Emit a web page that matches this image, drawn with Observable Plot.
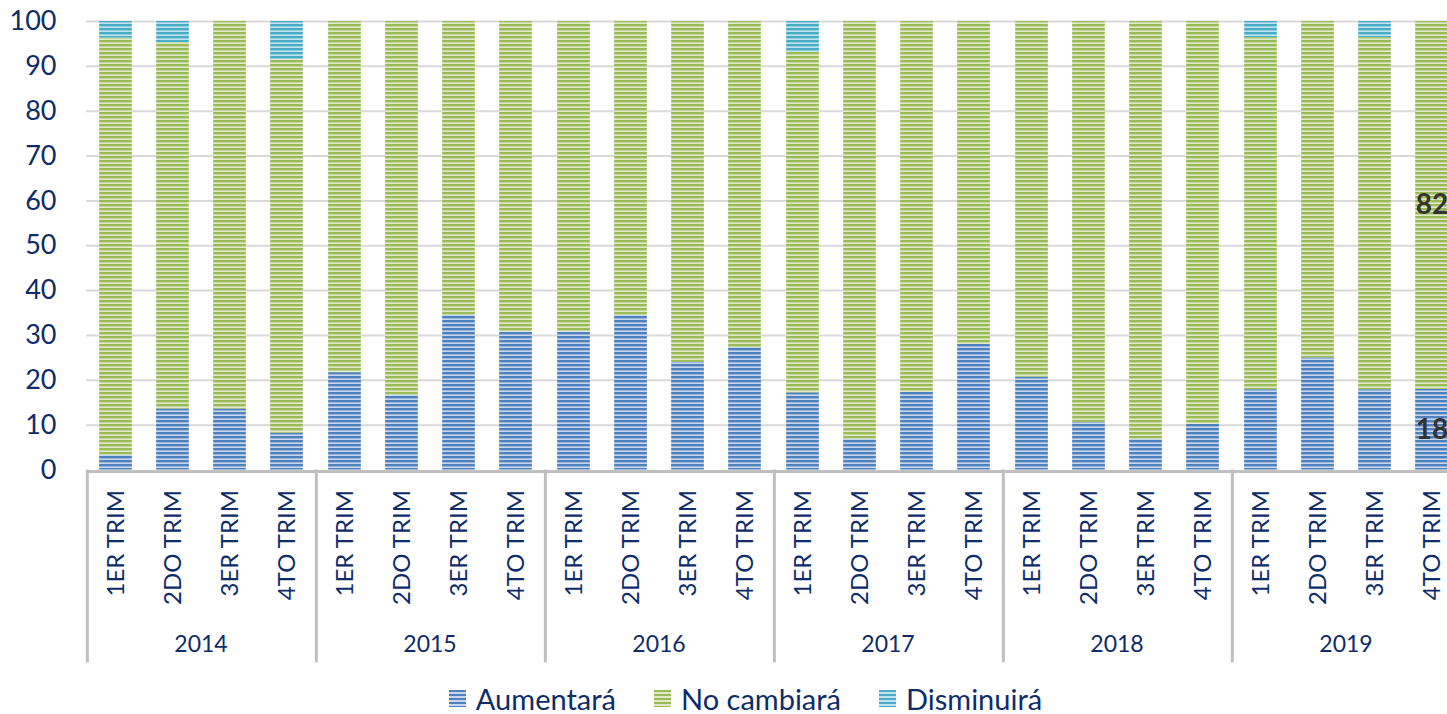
<!DOCTYPE html>
<html>
<head>
<meta charset="utf-8">
<script src="https://cdn.jsdelivr.net/npm/d3@7"></script>
<script src="https://cdn.jsdelivr.net/npm/@observablehq/plot@0.6"></script>
<style>
  html, body { margin: 0; padding: 0; background: #fff; overflow: hidden; }
  #chart { width: 1475px; }
  #chart svg { display: block; max-width: none !important; }
  #legend { width: 1475px; height: 34px; display: flex; justify-content: center; align-items: center;
            gap: 38px; padding-left: 16px; padding-top: 3px; box-sizing: border-box;
            font-family: Lato, "Open Sans", sans-serif; font-size: 29px; color: #0d2c69; }
  #legend .item { display: flex; align-items: center; }
  #legend .sw { width: 17px; height: 17px; margin-right: 10px; display: inline-block; }
</style>
</head>
<body>
<div id="chart"></div>
<div id="legend"></div>
<script>
const years = ["2014", "2015", "2016", "2017", "2018", "2019"];
const quarters = ["1ER TRIM", "2DO TRIM", "3ER TRIM", "4TO TRIM"];
const seriesNames = ["Aumentará", "No cambiará", "Disminuirá"];
const yTicks = [0, 10, 20, 30, 40, 50, 60, 70, 80, 90, 100];

// values per quarter, 2014 1ER TRIM ... 2019 4TO TRIM
const aumentara = [3.3, 13.6, 13.6, 8.2,  21.7, 16.7, 34.5, 30.8,  30.8, 34.5, 24.0, 27.3,
                   17.2, 6.9, 17.3, 28.0,  20.7, 10.6, 6.9, 10.2,  17.9, 25.0, 17.9, 18.0];
const noCambiara = [93.0, 81.7, 86.4, 83.3,  78.3, 83.3, 65.5, 69.2,  69.2, 65.5, 76.0, 72.7,
                    75.9, 93.1, 82.7, 72.0,  79.3, 89.4, 93.1, 89.8,  78.5, 75.0, 78.5, 82.0];
const disminuira = [3.7, 4.7, 0, 8.5,  0, 0, 0, 0,  0, 0, 0, 0,
                    6.9, 0, 0, 0,  0, 0, 0, 0,  3.6, 0, 3.6, 0];
const labelled = {year: "2019", quarter: "4TO TRIM"};

const seriesValues = [aumentara, noCambiara, disminuira];
const data = years.flatMap((year, i) => quarters.flatMap((quarter, j) =>
  seriesNames.map((s, k) => ({year, quarter, series: s, value: seriesValues[k][i * 4 + j]}))
));

const navy = "#0d2c69";
const patterns = {
  "Aumentará": ["pA", "#4f81bd", "#c8d7ee"],
  "No cambiará": ["pN", "#9bbb59", "#e0eac9"],
  "Disminuirá": ["pD", "#4bacc6", "#c0e4ef"]
};

const W = 1475, H = 680;
const chart = Plot.plot({
  width: W, height: H,
  marginLeft: 85, marginRight: 15, marginTop: 21, marginBottom: H - 469.5,
  style: {fontFamily: "Lato, 'Open Sans', sans-serif", background: "transparent", overflow: "visible", maxWidth: "none"},
  fx: {domain: years, padding: 0, label: null},
  x: {domain: quarters, padding: 0, label: null},
  y: {domain: [0, 100], label: null},
  color: {domain: seriesNames, range: seriesNames.map(s => `url(#${patterns[s][0]})`)},
  marks: [
    Plot.ruleY(yTicks.slice(1), {stroke: "#d9d9d9", strokeWidth: 2}),
    Plot.barY(data, {fx: "year", x: "quarter", y: "value", fill: "series", insetLeft: 12.15, insetRight: 12.15}),
    Plot.ruleY([0], {stroke: "#bfbfbf", strokeWidth: 3, dy: 1.5}),
    Plot.ruleX(years, {fx: d => d, x: () => quarters[0], dx: -28.65, y1: 0, y2: -43, stroke: "#bfbfbf", strokeWidth: 3}),
    Plot.text(data, Plot.stackY({
      filter: d => d.year === labelled.year && d.quarter === labelled.quarter && d.value > 0,
      fx: "year", x: "quarter", y: "value", z: "series",
      text: d => d.value.toFixed(0), fontSize: 28, fontWeight: "bold", fill: "#333333"
    })),
    Plot.axisY({ticks: yTicks, tickSize: 0, tickPadding: 30, fontSize: 27, color: navy, label: null}),
    Plot.axisX({tickRotate: -90, tickSize: 0, tickPadding: 20, fontSize: 24, color: navy, label: null}),
    Plot.axisFx({anchor: "bottom", tickSize: 0, tickPadding: 166, fontSize: 23, color: navy, label: null})
  ]
});

const defs = d3.select(chart).insert("defs", ":first-child");
for (const s of seriesNames) {
  const [id, dark, light] = patterns[s];
  const p = defs.append("pattern").attr("id", id).attr("patternUnits", "userSpaceOnUse")
    .attr("width", 4).attr("height", 4);
  p.append("rect").attr("width", 4).attr("height", 4).attr("fill", light);
  p.append("rect").attr("width", 4).attr("height", 2.4).attr("fill", dark);
}
document.getElementById("chart").appendChild(chart);

const legend = document.getElementById("legend");
for (const s of seriesNames) {
  const [, dark, light] = patterns[s];
  const item = document.createElement("span");
  item.className = "item";
  const sw = document.createElement("span");
  sw.className = "sw";
  sw.style.background = `repeating-linear-gradient(to bottom, ${dark} 0px, ${dark} 2.4px, ${light} 2.4px, ${light} 4px)`;
  item.appendChild(sw);
  item.appendChild(document.createTextNode(s));
  legend.appendChild(item);
}
</script>
</body>
</html>
